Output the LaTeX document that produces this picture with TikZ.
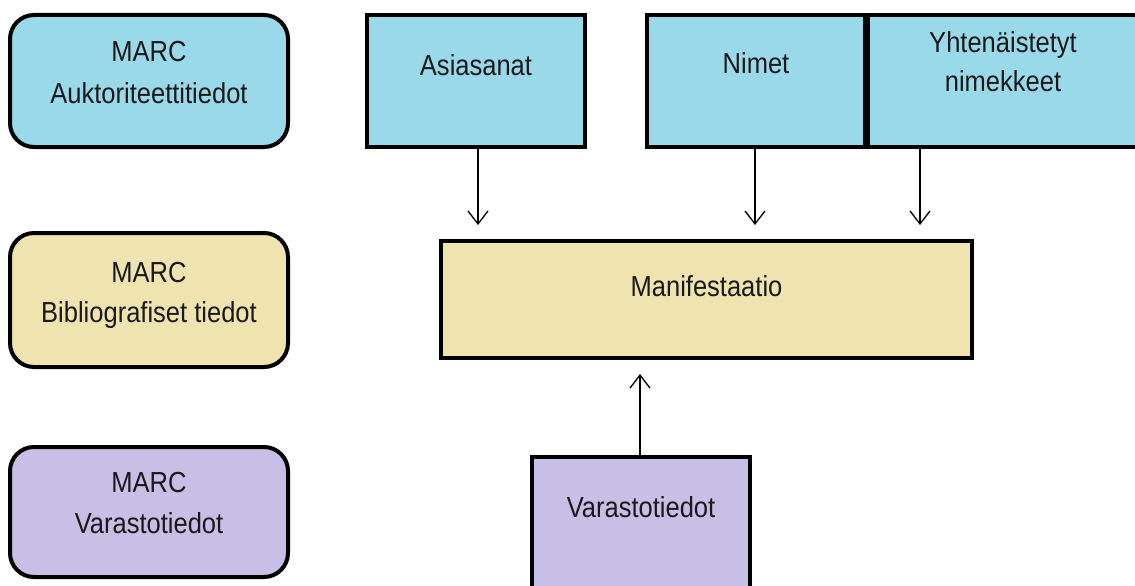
\documentclass[tikz,border=0pt]{standalone}
\usepackage{fontspec}
\setmainfont{Liberation Sans}
\newfontfamily\boxfont[FakeStretch=0.88]{Liberation Sans}
\usetikzlibrary{arrows.meta}
\definecolor{authblue}{RGB}{153,217,234}
\definecolor{bibcream}{RGB}{239,228,176}
\definecolor{holdlav}{RGB}{200,191,231}
\tikzset{
  box/.style={draw=black, line width=4pt, inner sep=0pt},
  marcbox/.style={box, rounded corners=24pt, minimum width=278pt},
  lbl/.style={anchor=base, inner sep=0pt, font=\boxfont\fontsize{29}{34}\selectfont, text=black!90},
  arr/.style={line width=1.3pt, -{Straight Barb[length=13pt,width=20pt,line width=1.3pt]}},
}
\begin{document}
\begin{tikzpicture}[x=1pt,y=-1pt]
\clip (0,0) rectangle (1135,586);
\fill[white] (0,0) rectangle (1135,586);

% MARC record formats, left column
\node[marcbox, fill=authblue, minimum height=132pt] (auth) at (149,81) {};
\node[lbl] (authA) at (149,62) {MARC};
\node[lbl] (authB) at (149,103) {Auktoriteettitiedot};

\node[marcbox, fill=bibcream, minimum height=134pt] (bib) at (149,300) {};
\node[lbl] (bibA) at (149,282) {MARC};
\node[lbl] (bibB) at (149,322) {Bibliografiset tiedot};

\node[marcbox, fill=holdlav, minimum height=130pt] (hold) at (149,512) {};
\node[lbl] (holdA) at (149,492) {MARC};
\node[lbl] (holdB) at (149,533) {Varastotiedot};

% authority entities
\node[box, fill=authblue, minimum width=218pt, minimum height=132pt] (asia) at (476,81) {};
\node[lbl] (asiaT) at (476,75) {Asiasanat};
\node[box, fill=authblue, minimum width=218pt, minimum height=132pt] (nimet) at (756,81) {};
\node[lbl] (nimetT) at (756,74) {Nimet};
\node[box, fill=authblue, minimum width=270pt, minimum height=132pt] (yht) at (1003,81) {};
\node[lbl] (yhtA) at (1003,53) {Yhtenäistetyt};
\node[lbl] (yhtB) at (1003,92) {nimekkeet};

% manifestation
\node[box, fill=bibcream, minimum width=531pt, minimum height=117pt] (mani) at (706.5,299.5) {};
\node[lbl] (maniT) at (706.5,296) {Manifestaatio};

% holdings
\node[box, fill=holdlav, minimum width=218pt, minimum height=140pt] (vara) at (641,527) {};
\node[lbl] (varaT) at (641,517) {Varastotiedot};

% links
\draw[arr, shorten >=14pt] ([xshift=2pt]asia.south) -- ([xshift=2pt]asia.south |- mani.north);
\draw[arr, shorten >=14pt] ([xshift=-1pt]nimet.south) -- ([xshift=-1pt]nimet.south |- mani.north);
\draw[arr, shorten >=14pt] ([xshift=-83pt]yht.south) -- ([xshift=-83pt]yht.south |- mani.north);
\draw[arr, shorten >=14pt] ([xshift=-1pt]vara.north) -- ([xshift=-1pt]vara.north |- mani.south);
\end{tikzpicture}
\end{document}
